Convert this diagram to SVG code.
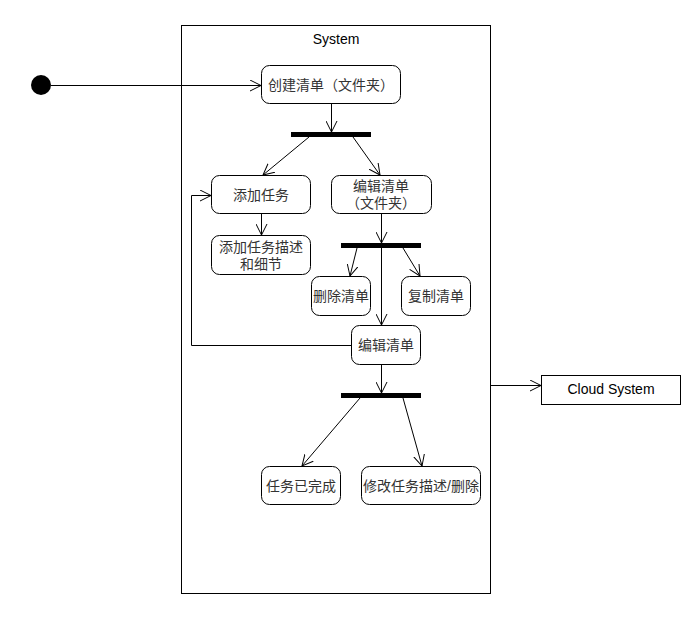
<svg xmlns="http://www.w3.org/2000/svg" width="693" height="617" viewBox="0 0 693 617">
<style>
.n{fill:#fff;stroke:#000;stroke-width:1}
.t{font-family:"Liberation Sans","Noto Sans CJK SC",sans-serif;font-size:14px;fill:#333;text-anchor:middle}
.c{fill:none;stroke:#000;stroke-width:1}
.bar{fill:#000}
</style>
<defs>
<marker id="a" viewBox="0 0 12 12" refX="11" refY="6" markerWidth="12" markerHeight="12" markerUnits="userSpaceOnUse" orient="auto">
<path d="M0,0.5 L11,6 L0,11.5" fill="none" stroke="#000" stroke-width="1"/>
</marker>
</defs>
<rect width="693" height="617" fill="#fff"/>
<g id="system">
<rect class="n" x="181.5" y="25.5" width="309" height="568"/>
<text class="t" x="336" y="44" style="fill:#000">System</text>
</g>
<g id="start"><circle cx="41" cy="85" r="10" fill="#000"/></g>
<g id="create"><rect class="n" x="261.5" y="65.5" width="139" height="38" rx="8"/><text class="t" x="331" y="90">创建清单（文件夹）</text></g>
<g id="fork1"><rect class="bar" x="291" y="132" width="80" height="5"/></g>
<g id="addTask"><rect class="n" x="211.5" y="175.5" width="99" height="38" rx="8"/><text class="t" x="261" y="200">添加任务</text></g>
<g id="editFolder"><rect class="n" x="331.5" y="175.5" width="100" height="38" rx="8"/><text class="t" x="381" y="191">编辑清单</text><text class="t" x="381" y="208">（文件夹）</text></g>
<g id="addDesc"><rect class="n" x="211.5" y="235.5" width="99" height="39" rx="8"/><text class="t" x="261" y="252">添加任务描述</text><text class="t" x="261" y="269">和细节</text></g>
<g id="fork2"><rect class="bar" x="341" y="243" width="80" height="5"/></g>
<g id="delList"><rect class="n" x="311.5" y="276.5" width="59" height="39" rx="8"/><text class="t" x="341" y="301">删除清单</text></g>
<g id="copyList"><rect class="n" x="401.5" y="276.5" width="69" height="39" rx="8"/><text class="t" x="436" y="301">复制清单</text></g>
<g id="editList"><rect class="n" x="351.5" y="325.5" width="69" height="39" rx="8"/><text class="t" x="386" y="350">编辑清单</text></g>
<g id="fork3"><rect class="bar" x="341" y="393" width="80" height="5"/></g>
<g id="done"><rect class="n" x="261.5" y="466.5" width="79" height="38" rx="8"/><text class="t" x="301" y="491">任务已完成</text></g>
<g id="modify"><rect class="n" x="361.5" y="466.5" width="119" height="38" rx="8"/><text class="t" x="421" y="491">修改任务描述/删除</text></g>
<g id="cloud"><rect class="n" x="541.5" y="375.5" width="139" height="29"/><text class="t" x="611" y="394" style="fill:#000">Cloud System</text></g>
<g id="connectors">
<path class="c" d="M51,85.5 H261" marker-end="url(#a)"/>
<path class="c" d="M331.5,104 V132" marker-end="url(#a)"/>
<path class="c" d="M309,137 L263,175" marker-end="url(#a)"/>
<path class="c" d="M353,137 L380,175" marker-end="url(#a)"/>
<path class="c" d="M261.5,214 V235" marker-end="url(#a)"/>
<path class="c" d="M381.5,214 V243" marker-end="url(#a)"/>
<path class="c" d="M357,248 L350,276" marker-end="url(#a)"/>
<path class="c" d="M403,248 L420,276" marker-end="url(#a)"/>
<path class="c" d="M381.5,248 V325" marker-end="url(#a)"/>
<path class="c" d="M351,345.5 H191.5 V195.5 H211" marker-end="url(#a)"/>
<path class="c" d="M381.5,365 V393" marker-end="url(#a)"/>
<path class="c" d="M360,398 L302,466" marker-end="url(#a)"/>
<path class="c" d="M403,398 L422,466" marker-end="url(#a)"/>
<path class="c" d="M491,385.5 H541" marker-end="url(#a)"/>
</g>
</svg>
